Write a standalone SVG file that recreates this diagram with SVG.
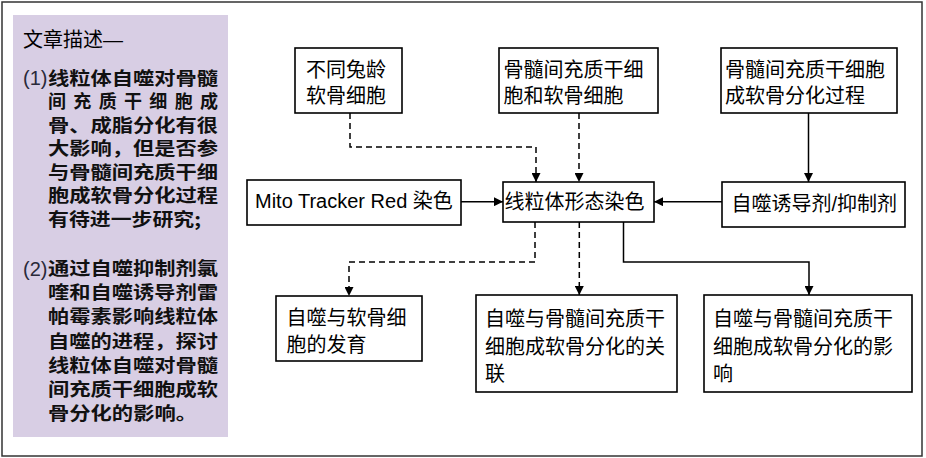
<svg xmlns="http://www.w3.org/2000/svg" width="926" height="458" viewBox="0 0 926 458">
<style>
.t{font-family:"Liberation Sans","Noto Sans CJK SC",sans-serif;font-size:20px;fill:#000}
.p{font-family:"Noto Sans CJK SC",sans-serif;font-size:18px;font-weight:bold;fill:#111}
.n{font-family:"Liberation Sans","Noto Sans CJK SC",sans-serif;font-size:20px;fill:#2a2a3a}
.box{fill:#fff;stroke:#000;stroke-width:1.6}
.ln{fill:none;stroke:#000;stroke-width:1.5}
.ds{fill:none;stroke:#000;stroke-width:1.5;stroke-dasharray:6 4}
</style>
<defs>
<marker id="ah" viewBox="0 0 10 10" refX="10" refY="5" markerWidth="9" markerHeight="9" markerUnits="userSpaceOnUse" orient="auto">
<path d="M0,0 L10,5 L0,10 z" fill="#000"/>
</marker>
</defs>
<rect x="2" y="2" width="920" height="454" fill="#fff" stroke="#333" stroke-width="1.5"/>
<g id="panel">
<rect x="13" y="15" width="215" height="422" fill="#d8cee4"/>
<text class="t" x="23" y="47">文章描述—</text>
<text class="n" x="23" y="85">(1)</text>
<text class="p" x="48" y="84.5" textLength="170" lengthAdjust="spacingAndGlyphs">线粒体自噬对骨髓</text>
<text class="p" x="48" y="108" textLength="170" lengthAdjust="spacing">间充质干细胞成</text>
<text class="p" x="48" y="131.5" textLength="170" lengthAdjust="spacingAndGlyphs">骨、成脂分化有很</text>
<text class="p" x="48" y="155" textLength="170" lengthAdjust="spacingAndGlyphs">大影响，但是否参</text>
<text class="p" x="48" y="178.5" textLength="170" lengthAdjust="spacingAndGlyphs">与骨髓间充质干细</text>
<text class="p" x="48" y="202" textLength="170" lengthAdjust="spacingAndGlyphs">胞成软骨分化过程</text>
<text class="p" x="48" y="225.5" textLength="153" lengthAdjust="spacingAndGlyphs">有待进一步研究;</text>
<text class="n" x="23" y="275.5">(2)</text>
<text class="p" x="48" y="275" textLength="170" lengthAdjust="spacingAndGlyphs">通过自噬抑制剂氯</text>
<text class="p" x="48" y="299" textLength="170" lengthAdjust="spacingAndGlyphs">喹和自噬诱导剂雷</text>
<text class="p" x="48" y="323" textLength="170" lengthAdjust="spacingAndGlyphs">帕霉素影响线粒体</text>
<text class="p" x="48" y="347.5" textLength="170" lengthAdjust="spacingAndGlyphs">自噬的进程，探讨</text>
<text class="p" x="48" y="371.5" textLength="170" lengthAdjust="spacingAndGlyphs">线粒体自噬对骨髓</text>
<text class="p" x="48" y="396" textLength="170" lengthAdjust="spacingAndGlyphs">间充质干细胞成软</text>
<text class="p" x="48" y="420" textLength="149" lengthAdjust="spacingAndGlyphs">骨分化的影响。</text>
</g>
<g id="connectors">
<path class="ds" d="M350,113 V147 H536 V182" marker-end="url(#ah)"/>
<path class="ds" d="M579,113 V182" marker-end="url(#ah)"/>
<path class="ln" d="M461,201.7 H503" marker-end="url(#ah)"/>
<path class="ln" d="M722,201.7 H654" marker-end="url(#ah)"/>
<path class="ln" d="M808.5,113 V182" marker-end="url(#ah)"/>
<path class="ds" d="M535,222 V262 H349 V296" marker-end="url(#ah)"/>
<path class="ds" d="M579.3,222 V295" marker-end="url(#ah)"/>
<path class="ln" d="M623.5,222 V262 H809 V295" marker-end="url(#ah)"/>
</g>
<g id="n1">
<rect class="box" x="295" y="48" width="107" height="65"/>
<text class="t" x="306" y="76.5">不同兔龄</text>
<text class="t" x="306" y="103">软骨细胞</text>
</g>
<g id="n2">
<rect class="box" x="499" y="48" width="159" height="65"/>
<text class="t" x="503.5" y="76.5">骨髓间充质干细</text>
<text class="t" x="503.5" y="103">胞和软骨细胞</text>
</g>
<g id="n3">
<rect class="box" x="721" y="48" width="176" height="65"/>
<text class="t" x="725" y="76.5">骨髓间充质干细胞</text>
<text class="t" x="725" y="103">成软骨分化过程</text>
</g>
<g id="n4">
<rect class="box" x="247" y="180" width="214" height="45"/>
<text class="t" x="255" y="208">Mito Tracker Red 染色</text>
</g>
<g id="n5">
<rect class="box" x="503" y="182" width="151" height="40"/>
<text class="t" x="504.5" y="209">线粒体形态染色</text>
</g>
<g id="n6">
<rect class="box" x="722" y="182" width="183" height="45"/>
<text class="t" x="731.5" y="210.5">自噬诱导剂/抑制剂</text>
</g>
<g id="n7">
<rect class="box" x="276" y="296" width="146" height="65"/>
<text class="t" x="286.5" y="325">自噬与软骨细</text>
<text class="t" x="286.5" y="352">胞的发育</text>
</g>
<g id="n8">
<rect class="box" x="476" y="295" width="201" height="97"/>
<text class="t" x="485" y="326">自噬与骨髓间充质干</text>
<text class="t" x="485" y="353.5">细胞成软骨分化的关</text>
<text class="t" x="485" y="381">联</text>
</g>
<g id="n9">
<rect class="box" x="704" y="295" width="208" height="97"/>
<text class="t" x="713" y="326">自噬与骨髓间充质干</text>
<text class="t" x="713" y="353.5">细胞成软骨分化的影</text>
<text class="t" x="713" y="381">响</text>
</g>
</svg>
